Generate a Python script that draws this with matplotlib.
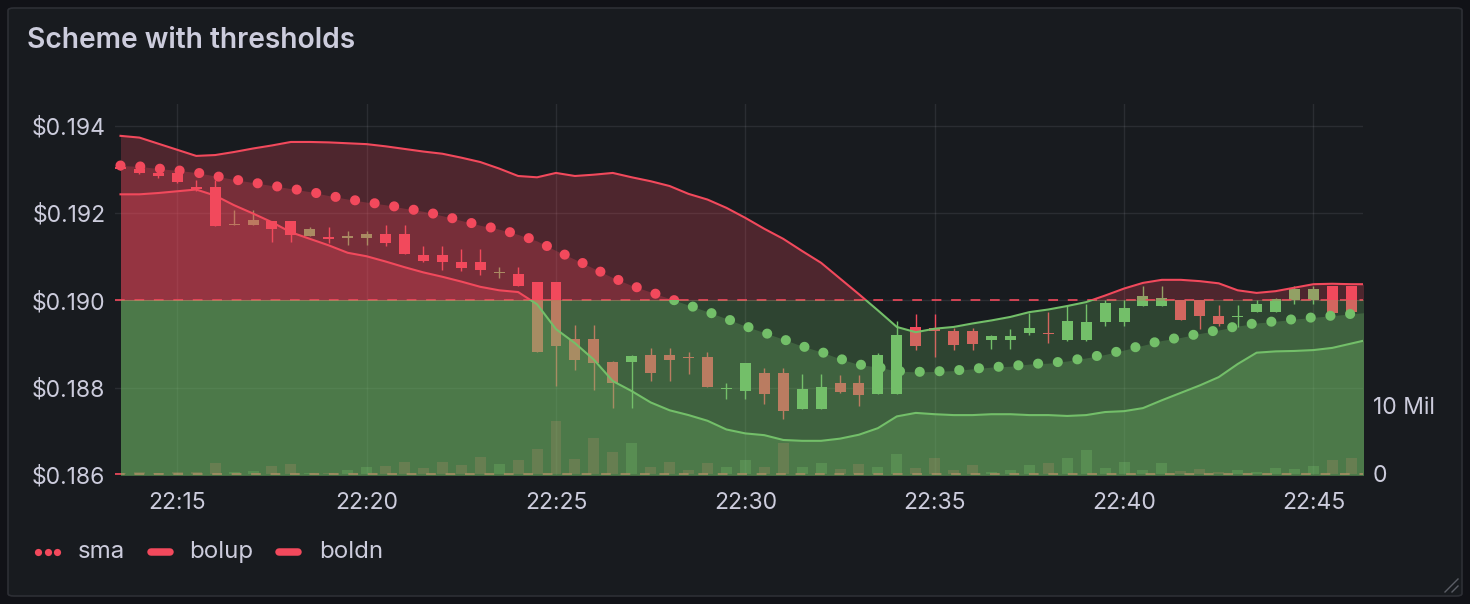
import numpy as np
import matplotlib.pyplot as plt
from matplotlib.patches import Rectangle, FancyBboxPatch
from matplotlib.lines import Line2D
from matplotlib.ticker import FuncFormatter

# Grafana dark theme colours
RED = '#f2495c'
GREEN = '#73bf69'
TEXT = '#ccccdc'
PANEL = '#181b1f'
PAGE = '#111217'
THRESHOLD = 0.190

# 30 s candles starting 22:13:30 (minutes after 22:00)
t_start = 13.5
t_step = 0.5

opens = [0.19305, 0.19302, 0.19293, 0.19293, 0.19258, 0.19259, 0.19173, 0.19173, 0.19181, 0.19181,
         0.19147, 0.19146, 0.19144, 0.19144, 0.19153, 0.19153, 0.19105, 0.19105, 0.19089, 0.19089,
         0.19063, 0.19060, 0.19041, 0.19041, 0.18911, 0.18911, 0.18858, 0.18859, 0.18874, 0.18874,
         0.18869, 0.18869, 0.18796, 0.18792, 0.18833, 0.18833, 0.18751, 0.18751, 0.18810, 0.18810,
         0.18786, 0.18786, 0.18938, 0.18937, 0.18929, 0.18929, 0.18909, 0.18909, 0.18925, 0.18924,
         0.18908, 0.18908, 0.18950, 0.18950, 0.18987, 0.18987, 0.19000, 0.19000, 0.18963, 0.18962,
         0.18973, 0.18973, 0.19000, 0.19000, 0.19032, 0.19032]
closes = [0.19302, 0.19293, 0.19285, 0.19271, 0.19256, 0.19170, 0.19176, 0.19185, 0.19163, 0.19150,
          0.19163, 0.19140, 0.19146, 0.19151, 0.19131, 0.19106, 0.19090, 0.19088, 0.19074, 0.19069,
          0.19064, 0.19033, 0.18882, 0.18895, 0.18863, 0.18856, 0.18811, 0.18872, 0.18834, 0.18863,
          0.18868, 0.18802, 0.18798, 0.18857, 0.18786, 0.18747, 0.18796, 0.18801, 0.18790, 0.18783,
          0.18874, 0.18920, 0.18895, 0.18930, 0.18898, 0.18900, 0.18918, 0.18918, 0.18936, 0.18923,
          0.18952, 0.18950, 0.18995, 0.18982, 0.19011, 0.19005, 0.18955, 0.18964, 0.18946, 0.18963,
          0.18991, 0.19002, 0.19025, 0.19027, 0.18971, 0.18973]
highs = [0.19309, 0.19311, 0.19305, 0.19302, 0.19276, 0.19276, 0.19208, 0.19208, 0.19181, 0.19181,
         0.19169, 0.19169, 0.19160, 0.19160, 0.19172, 0.19172, 0.19124, 0.19124, 0.19117, 0.19117,
         0.19076, 0.19076, 0.19041, 0.19041, 0.18943, 0.18943, 0.18861, 0.18874, 0.18890, 0.18890,
         0.18881, 0.18881, 0.18810, 0.18857, 0.18844, 0.18844, 0.18831, 0.18831, 0.18828, 0.18828,
         0.18879, 0.18952, 0.18968, 0.18968, 0.18936, 0.18936, 0.18920, 0.18934, 0.18970, 0.18973,
         0.18989, 0.18991, 0.19000, 0.19000, 0.19033, 0.19033, 0.19000, 0.19000, 0.18989, 0.18989,
         0.19000, 0.19005, 0.19032, 0.19032, 0.19032, 0.19032]
lows = [0.19298, 0.19290, 0.19280, 0.19270, 0.19250, 0.19170, 0.19173, 0.19173, 0.19133, 0.19133,
        0.19147, 0.19131, 0.19127, 0.19127, 0.19124, 0.19106, 0.19088, 0.19069, 0.19067, 0.19057,
        0.19051, 0.19033, 0.18882, 0.18804, 0.18840, 0.18795, 0.18754, 0.18754, 0.18815, 0.18815,
        0.18832, 0.18802, 0.18774, 0.18774, 0.18763, 0.18727, 0.18751, 0.18751, 0.18788, 0.18757,
        0.18786, 0.18786, 0.18886, 0.18870, 0.18886, 0.18886, 0.18889, 0.18889, 0.18921, 0.18902,
        0.18907, 0.18907, 0.18941, 0.18941, 0.18987, 0.18987, 0.18955, 0.18934, 0.18941, 0.18940,
        0.18973, 0.18973, 0.18992, 0.18992, 0.18962, 0.18962]
# volume in millions
volume = [0.10, 0.29, 0.14, 0.29, 0.24, 1.64, 0.29, 0.43, 1.16, 1.45,
          0.14, 0.19, 0.58, 0.97, 1.16, 1.74, 0.87, 1.74, 1.30, 2.46,
          1.45, 2.03, 3.62, 7.68, 2.17, 5.22, 3.19, 4.49, 1.01, 1.74,
          0.58, 1.59, 1.01, 2.03, 1.01, 4.49, 1.01, 1.59, 0.72, 1.45,
          1.01, 2.90, 0.87, 2.32, 0.58, 1.30, 0.29, 0.58, 1.30, 1.59,
          2.32, 3.48, 0.87, 1.74, 0.58, 1.59, 0.43, 0.72, 0.29, 0.58,
          0.29, 0.87, 0.72, 1.16, 2.03, 2.32]

# indicator series (one extra point past the last candle)
bolup = [0.19377, 0.19373, 0.19359, 0.19345, 0.19331, 0.19333, 0.19340, 0.19348, 0.19355, 0.19363,
         0.19363, 0.19362, 0.19360, 0.19358, 0.19353, 0.19347, 0.19341, 0.19336, 0.19327, 0.19317,
         0.19302, 0.19285, 0.19282, 0.19292, 0.19285, 0.19288, 0.19292, 0.19282, 0.19273, 0.19262,
         0.19244, 0.19231, 0.19212, 0.19189, 0.19164, 0.19141, 0.19113, 0.19086, 0.19050, 0.19014,
         0.18977, 0.18939, 0.18927, 0.18935, 0.18939, 0.18947, 0.18954, 0.18962, 0.18973, 0.18979,
         0.18987, 0.18996, 0.19011, 0.19027, 0.19040, 0.19047, 0.19047, 0.19044, 0.19039, 0.19023,
         0.19017, 0.19021, 0.19029, 0.19037, 0.19038, 0.19037, 0.19037]
sma = [0.19309, 0.19307, 0.19302, 0.19298, 0.19293, 0.19285, 0.19277, 0.19270, 0.19263, 0.19256,
       0.19249, 0.19240, 0.19232, 0.19225, 0.19219, 0.19211, 0.19204, 0.19194, 0.19183, 0.19172,
       0.19163, 0.19151, 0.19136, 0.19114, 0.19094, 0.19073, 0.19052, 0.19034, 0.19019, 0.19004,
       0.18989, 0.18974, 0.18958, 0.18941, 0.18926, 0.18911, 0.18895, 0.18882, 0.18866, 0.18853,
       0.18847, 0.18838, 0.18836, 0.18837, 0.18839, 0.18843, 0.18847, 0.18849, 0.18854, 0.18856,
       0.18861, 0.18868, 0.18876, 0.18886, 0.18897, 0.18908, 0.18915, 0.18924, 0.18932, 0.18941,
       0.18948, 0.18952, 0.18957, 0.18961, 0.18965, 0.18969, 0.18973]
boldn = [0.19243, 0.19243, 0.19246, 0.19250, 0.19254, 0.19240, 0.19218, 0.19199, 0.19179, 0.19156,
         0.19141, 0.19126, 0.19109, 0.19101, 0.19089, 0.19076, 0.19064, 0.19054, 0.19043, 0.19031,
         0.19023, 0.19019, 0.18991, 0.18934, 0.18902, 0.18864, 0.18815, 0.18792, 0.18766, 0.18748,
         0.18737, 0.18724, 0.18704, 0.18695, 0.18691, 0.18680, 0.18678, 0.18678, 0.18683, 0.18692,
         0.18707, 0.18734, 0.18742, 0.18739, 0.18737, 0.18737, 0.18739, 0.18739, 0.18737, 0.18737,
         0.18735, 0.18737, 0.18744, 0.18746, 0.18753, 0.18771, 0.18788, 0.18805, 0.18824, 0.18854,
         0.18880, 0.18883, 0.18884, 0.18886, 0.18891, 0.18901, 0.18911]

price_ticks = [0.186, 0.188, 0.190, 0.192, 0.194]
time_ticks = [15, 20, 25, 30, 35, 40, 45]

opens, closes = np.array(opens), np.array(closes)
highs, lows = np.array(highs), np.array(lows)
candle_t = t_start + t_step * np.arange(len(opens))
line_t = t_start + t_step * np.arange(len(sma))

plt.rcParams['font.family'] = ['Inter', 'DejaVu Sans']

W, H = 1470, 604
fig = plt.figure(figsize=(W / 100, H / 100), dpi=100, facecolor=PAGE)

def fx(px):
    return px / W

def fy(py):
    return 1 - py / H

# panel box (kept behind the axes)
panel = FancyBboxPatch((fx(8), fy(596)), fx(1454), 588 / H,
                       boxstyle='round,pad=0,rounding_size=0.004',
                       transform=fig.transFigure, facecolor=PANEL,
                       edgecolor='#2d2f35', lw=1.2, zorder=-10)
fig.patches.append(panel)
fig.text(fx(27), fy(41), 'Scheme with thresholds', color=TEXT, fontsize=20.3,
         fontweight='semibold', va='center', ha='left')

# plot area in pixels
left, right, top, bottom = 115, 1363, 104, 475.3
ax = fig.add_axes([fx(left), fy(bottom), fx(right - left), (bottom - top) / H])
axv = ax.twinx()
axv.set_zorder(1)
ax.set_zorder(2)
ax.patch.set_visible(False)
axv.patch.set_facecolor(PANEL)

xmin, xmax = 13.355, 46.31
ybot, ytop = 0.18599, 0.1945
ax.set_xlim(xmin, xmax)
ax.set_ylim(ybot, ytop)
# volume scale: 10 Mil = 69 px, zero at y=474
axv.set_ylim(-(bottom - 474) / 6.9 * 1e6, (474 - top) / 6.9 * 1e6)

def clip_rect(above):
    # clip region inside the axes, above or below the threshold
    if above:
        return Rectangle((xmin, THRESHOLD), xmax - xmin, ytop - THRESHOLD, transform=ax.transData)
    return Rectangle((xmin, ybot), xmax - xmin, THRESHOLD - ybot, transform=ax.transData)

cols = [GREEN if c >= o else RED for o, c in zip(opens, closes)]

# volume bars (behind everything)
axv.bar(candle_t, np.array(volume) * 1e6, width=0.29, color=cols, alpha=0.3, lw=0)
axv.axhline(THRESHOLD, color=RED, lw=1.4, ls=(0, (5, 5)), alpha=0.85)

# candles
ax.vlines(candle_t, lows, highs, colors=cols, lw=1.0, zorder=2)
body_h = np.maximum(np.abs(closes - opens), 0.00003)
ax.bar(candle_t, body_h, bottom=np.minimum(opens, closes), width=0.29,
       color=cols, lw=0, zorder=2.1)

ax.axhline(THRESHOLD, color=RED, lw=1.4, ls=(0, (5, 5)), alpha=0.85, zorder=2.5)

# fills under each series, coloured by threshold
for vals in (bolup, sma, boldn):
    for above, col in ((True, RED), (False, GREEN)):
        f = ax.fill_between(line_t, vals, ybot, color=col, alpha=0.25, lw=0, zorder=3)
        f.set_clip_path(clip_rect(above))

for vals in (bolup, boldn):
    for above, col in ((True, RED), (False, GREEN)):
        ln, = ax.plot(line_t, vals, color=col, lw=1.5, zorder=4)
        ln.set_clip_path(clip_rect(above))

for above, col in ((True, RED), (False, GREEN)):
    ln, = ax.plot(line_t, sma, color=col, lw=7.3, ls=(0, (0.001, 1.95)),
                  dash_capstyle='round', zorder=5)
    ln.set_clip_path(clip_rect(above))

# axes styling
ax.set_yticks(price_ticks)
ax.yaxis.set_major_formatter(FuncFormatter(lambda v, p: '$%.3f' % v))
ax.set_xticks(time_ticks)
ax.xaxis.set_major_formatter(FuncFormatter(lambda v, p: '22:%02d' % v))
ax.grid(True, color=TEXT, alpha=0.1, lw=1)
ax.set_axisbelow(True)
ax.tick_params(axis='both', length=0, colors=TEXT, labelsize=16.5)
ax.tick_params(axis='y', pad=7)
ax.tick_params(axis='x', pad=12)
axv.set_yticks([0, 10e6])
axv.yaxis.set_major_formatter(FuncFormatter(lambda v, p: '0' if v == 0 else '%d Mil' % (v / 1e6)))
axv.tick_params(axis='y', length=0, colors=TEXT, labelsize=16.5, pad=7)
for a in (ax, axv):
    for s in a.spines.values():
        s.set_visible(False)

# legend
ly = fy(552)
fig.add_artist(Line2D([fx(38), fx(47.5), fx(57)], [ly] * 3, transform=fig.transFigure,
                      ls='none', marker='o', ms=5.2, mew=0, color=RED))
fig.text(fx(78), ly, 'sma', color=TEXT, fontsize=17.3, va='center', ha='left')
for x0, label, tx in ((150.5, 'bolup', 189), (279, 'boldn', 319)):
    fig.add_artist(Line2D([fx(x0), fx(x0 + 19)], [ly, ly], transform=fig.transFigure,
                          color=RED, lw=5.4, solid_capstyle='round'))
    fig.text(fx(tx), ly, label, color=TEXT, fontsize=17.3, va='center', ha='left')

# resize handle
for d in (6, 13):
    fig.add_artist(Line2D([fx(1458 - d), fx(1458)], [fy(592), fy(592 - d)],
                          transform=fig.transFigure, color='#5b5e66', lw=1))

fig.savefig('out.png', dpi=100, facecolor=PAGE)
